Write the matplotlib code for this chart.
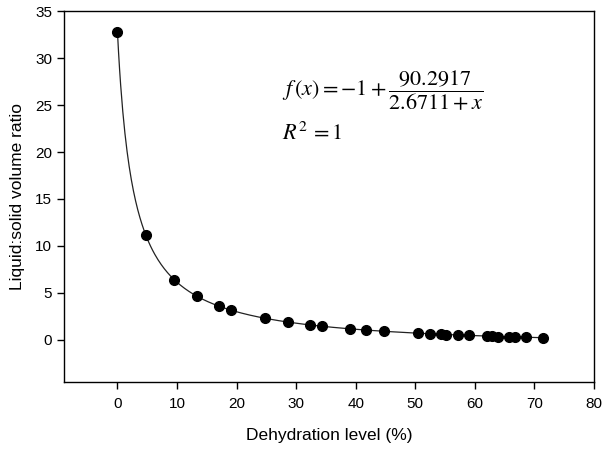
import numpy as np
import matplotlib
matplotlib.use("Agg")
import matplotlib.pyplot as plt

plt.rcParams['font.family'] = ['Liberation Sans', 'DejaVu Sans']
plt.rcParams['mathtext.fontset'] = 'stix'

# measured points
dehydration = [0.0, 4.8, 9.5, 13.3, 17.1, 19.1, 24.8, 28.6, 32.3, 34.4, 39.1, 41.8,
               44.8, 50.5, 52.4, 54.3, 55.2, 57.1, 59.0, 62.0, 62.9, 63.9, 65.7,
               66.7, 68.6, 71.5]
ratio = [32.8, 11.15, 6.4, 4.65, 3.55, 3.12, 2.28, 1.88, 1.56, 1.45, 1.14, 0.99,
         0.89, 0.69, 0.64, 0.57, 0.55, 0.50, 0.46, 0.37, 0.35, 0.34, 0.29,
         0.27, 0.25, 0.20]

# fitted curve f(x) = y0 + a/(b + x)
y0, a, b = -1.0, 90.2917, 2.6711

fig = plt.figure(figsize=(6.08, 4.51), dpi=100)
ax = fig.add_axes([0.105, 0.153, 0.872, 0.822])

xf = np.linspace(0, max(dehydration), 400)
ax.plot(xf, y0 + a / (b + xf), color='#222222', lw=0.9, zorder=2)
ax.plot(dehydration, ratio, 'o', color='black', ms=7, zorder=3)

ax.set_xlim(-9, 80)
ax.set_ylim(-4.5, 35)
ax.set_xticks(range(0, 81, 10))
ax.set_yticks(range(0, 36, 5))
ax.tick_params(direction='out', length=5, width=1, labelsize=11, color='black',
               top=False, right=False)
ax.tick_params(axis='x', pad=6)
for s in ax.spines.values():
    s.set_linewidth(1)

ax.set_xlabel('Dehydration level (%)', fontsize=12.5, labelpad=12)
ax.set_ylabel('Liquid:solid volume ratio', fontsize=12.5, labelpad=7)

ax.text(27.6, 26.5, r'$f\,(x) = -1 + \dfrac{90.2917}{2.6711 + x}$', fontsize=16,
        va='center', ha='left')
ax.text(27.6, 22.0, r'$R^2\, = 1$', fontsize=16, va='center', ha='left')

fig.savefig('out.png', dpi=100)
